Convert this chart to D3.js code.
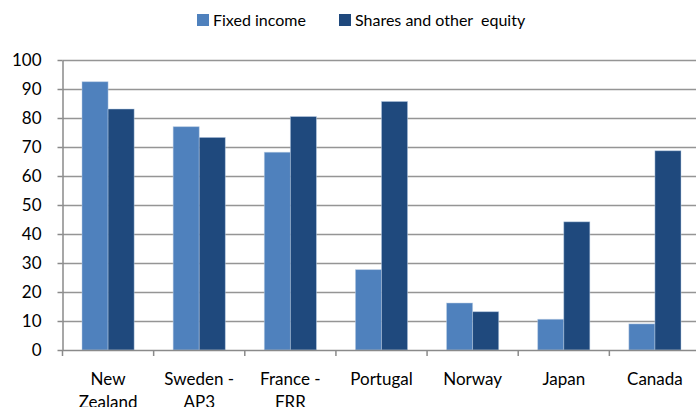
<!DOCTYPE html>
<html><head><meta charset="utf-8">
<script src="https://cdn.jsdelivr.net/npm/d3@7"></script>
<style>body{margin:0;background:#fff}svg{display:block}</style>
</head><body><svg id="c" width="696" height="407"></svg>
<script>
const categories = [["New","Zealand"],["Sweden -","AP3"],["France -","FRR"],["Portugal"],["Norway"],["Japan"],["Canada"]];
const seriesNames = ["Fixed income","Shares and other  equity"];
const fixedIncome = [92.5, 77.0, 68.2, 27.7, 16.2, 10.6, 9.0];
const sharesEquity = [83.1, 73.3, 80.5, 85.7, 13.2, 44.2, 68.7];
const yTicks = [0,10,20,30,40,50,60,70,80,90,100];
const colors = ["#4F81BD","#1F497D"];

(function(){
const svg = d3.select("#c");
const font = "Lato, 'Liberation Sans', sans-serif";
const mL = 62.5, mR = 700.5, mT = 60, mB = 350;
const keys = categories.map((c,i)=>i);
const x = d3.scaleBand().domain(keys).range([mL,mR]).paddingInner(0).paddingOuter(0);
const y = d3.scaleLinear().domain([0,100]).range([mB,mT]);

// gridlines
svg.append("g").selectAll("line").data(yTicks.filter(d=>d>0)).join("line")
  .attr("x1",mL).attr("x2",mR).attr("y1",d=>y(d)+0.5).attr("y2",d=>y(d)+0.5)
  .attr("stroke","#959595").attr("stroke-width",1.5);

// bars
const bw = x.bandwidth()*0.286;
const data = [fixedIncome, sharesEquity];
data.forEach((vals,s)=>{
  svg.append("g").selectAll("rect").data(vals).join("rect")
    .attr("x",(d,i)=>x(i)+x.bandwidth()/2 - bw + s*bw)
    .attr("y",d=>y(d))
    .attr("width",bw).attr("height",d=>mB-y(d))
    .attr("fill",colors[s]).attr("stroke","#b9cde5").attr("stroke-opacity",0.6).attr("stroke-width",0.8);
});

// y axis
const ya = svg.append("g").attr("transform",`translate(${mL},0)`)
  .call(d3.axisLeft(y).tickValues(yTicks).tickSize(5).tickSizeOuter(0).tickPadding(16));
ya.select(".domain").attr("stroke","#8a8a8a").attr("stroke-width",1.5);
ya.selectAll(".tick line").attr("stroke","#8a8a8a").attr("stroke-width",1.5);
ya.selectAll("text").attr("font-family",font).attr("font-size",17).attr("fill","#000");

// x axis
const xa = svg.append("g").attr("transform",`translate(0,${mB})`)
  .call(d3.axisBottom(x).tickSize(0).tickFormat(""));
xa.select(".domain").attr("stroke","#8a8a8a").attr("stroke-width",1.5);
svg.append("g").selectAll("line").data(keys.concat([keys.length])).join("line")
  .attr("x1",d=>mL + d*x.bandwidth()).attr("x2",d=>mL + d*x.bandwidth())
  .attr("y1",mB).attr("y2",mB+6).attr("stroke","#8a8a8a").attr("stroke-width",1.5);
const xl = svg.append("g").selectAll("text").data(categories).join("text")
  .attr("x",(d,i)=>x(i)+x.bandwidth()/2).attr("y",385)
  .attr("text-anchor","middle").attr("font-family",font).attr("font-size",17).attr("fill","#000");
xl.each(function(d){
  const el = d3.select(this);
  el.selectAll("tspan").data(d).join("tspan")
    .attr("x",el.attr("x")).attr("dy",(t,j)=>j===0?0:23).text(t=>t);
});

// legend
const leg = [{x:197,t:seriesNames[0]},{x:339,t:seriesNames[1]}];
leg.forEach((l,i)=>{
  svg.append("rect").attr("x",l.x).attr("y",14).attr("width",12).attr("height",12).attr("fill",colors[i]);
  svg.append("text").attr("x",l.x+16).attr("y",26).attr("font-family",font).attr("font-size",16)
    .attr("fill","#000").style("white-space","pre").text(l.t);
});
})();
</script></body></html>
